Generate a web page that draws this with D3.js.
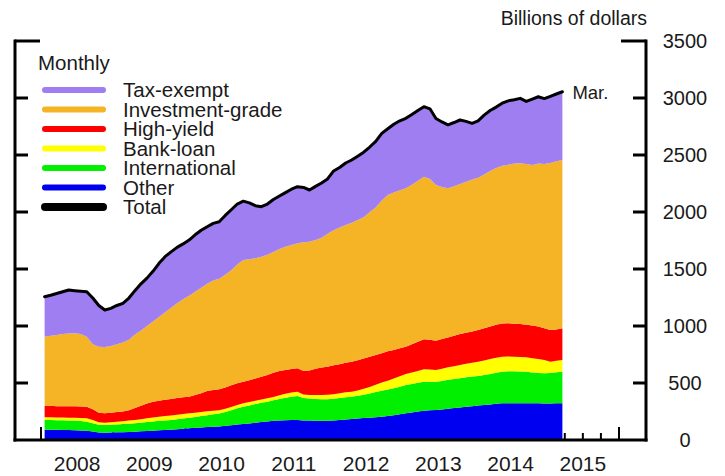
<!DOCTYPE html>
<html>
<head>
<meta charset="utf-8">
<script src="https://cdn.jsdelivr.net/npm/d3@7"></script>
<style>
html,body{margin:0;padding:0;background:#fff;}
svg{display:block;}
text{font-family:"Liberation Sans",Arial,sans-serif;fill:#1a1a1a;}
</style>
</head>
<body>
<svg id="chart" width="725" height="476"></svg>
<script>
// ---- data (billions of dollars, monthly Jan 2008 – Mar 2015) ----
const startYear = 2008;
const monthCount = 87;
const months = d3.range(monthCount).map(m => `${startYear + Math.floor(m / 12)}-${String(m % 12 + 1).padStart(2, "0")}`);

const other = [90,90,89,88,87,86,84,82,74,66,64,65,67,69,71,73,76,79,82,85,88,91,95,99,103,107,110,114,117,119,124,129,135,140,145,152,158,163,168,172,174,175,175,172,170,169,169,169,172,176,180,184,188,192,196,200,205,211,218,226,234,242,250,256,260,263,268,274,280,286,292,297,302,307,312,317,322,323,323,322,322,322,322,321,321,322,322];
const international = [85,86,85,85,85,84,82,79,74,68,68,69,70,71,72,73,76,79,81,83,84,85,87,89,92,95,100,104,108,113,121,131,143,152,158,163,168,173,180,188,196,205,211,196,194,191,189,188,190,192,194,196,200,206,212,220,227,231,237,242,248,250,252,256,252,249,250,254,255,256,258,259,259,263,268,273,277,279,279,278,277,271,265,264,267,272,277];
const bankLoan = [24,24,24,24,24,25,27,29,27,21,20,21,23,25,27,29,30,32,34,36,39,40,40,40,39,38,36,34,31,30,30,30,30,30,30,30,30,30,30,32,35,36,38,32,31,34,37,39,40,42,44,44,47,52,57,65,73,78,85,92,97,100,103,108,106,102,107,110,113,116,118,122,126,128,130,132,132,130,128,128,126,125,123,117,99,101,103];
const highYield = [99,100,97,99,101,100,101,102,95,85,82,83,85,84,90,105,118,130,139,141,141,144,146,147,146,155,164,178,183,183,185,190,190,190,192,195,199,204,212,213,210,206,205,205,215,231,240,247,253,255,260,263,265,265,265,260,255,258,250,245,240,248,257,263,262,257,260,262,267,272,272,274,278,282,285,288,292,293,290,290,285,287,285,278,278,275,278];
const investmentGrade = [608,615,627,634,637,641,636,614,570,578,581,587,595,606,620,645,660,680,704,735,768,800,831,860,885,905,925,940,961,970,990,1010,1042,1067,1060,1055,1053,1055,1060,1070,1080,1088,1096,1130,1130,1129,1140,1167,1185,1200,1207,1218,1230,1240,1270,1295,1340,1372,1380,1385,1389,1400,1413,1427,1410,1366,1335,1308,1310,1315,1326,1333,1335,1350,1365,1375,1382,1390,1405,1409,1410,1408,1430,1440,1465,1475,1476];
const taxExempt = [351,355,363,370,382,374,375,395,406,362,325,330,340,344,365,385,410,420,440,470,488,490,491,485,489,500,505,501,500,500,520,530,530,516,495,460,439,445,460,465,475,490,497,480,453,471,480,480,520,525,545,551,560,570,570,580,590,580,600,610,614,615,615,614,615,583,570,557,560,562,529,493,500,520,530,535,550,560,560,570,550,577,586,575,585,590,599];

const seriesKeys = ["other", "international", "bankLoan", "highYield", "investmentGrade", "taxExempt"];
const seriesValues = {other, international, bankLoan, highYield, investmentGrade, taxExempt};
const legendLabels = ["Tax-exempt", "Investment-grade", "High-yield", "Bank-loan", "International", "Other", "Total"];
const legendKeys = ["taxExempt", "investmentGrade", "highYield", "bankLoan", "international", "other", "total"];
const colors = {
  taxExempt: "#9f7ef1",
  investmentGrade: "#f5b326",
  highYield: "#fe0000",
  bankLoan: "#ffff00",
  international: "#00f000",
  other: "#0000f0",
  total: "#000000"
};
const yTicks = [0, 500, 1000, 1500, 2000, 2500, 3000, 3500];
const yearLabels = [2008, 2009, 2010, 2011, 2012, 2013, 2014, 2015];
const unitLabel = "Billions of dollars";
const freqLabel = "Monthly";
const endLabel = "Mar.";

// ---- build table ----
const table = months.map((mLabel, i) => {
  const row = {month: mLabel, t: startYear + (i + 0.6) / 12};
  seriesKeys.forEach(k => row[k] = seriesValues[k][i]);
  row.total = d3.sum(seriesKeys, k => row[k]);
  return row;
});

// ---- scales ----
const svg = d3.select("#chart");
const axL = 15, axR = 646, axT = 41, axB = 440;
const x = d3.scaleLinear().domain([2007.64, 2016.374]).range([axL, axR]);
const y = d3.scaleLinear().domain([0, 3500]).range([axB, axT]);

// ---- x ticks (behind data) ----
const gx = svg.append("g");
const quarterTicks = d3.range(2008, 2016.001, 0.25);
gx.selectAll("line.q").data(quarterTicks).join("line")
  .attr("x1", d => x(d)).attr("x2", d => x(d))
  .attr("y1", axB).attr("y2", d => Math.abs(d - Math.round(d)) < 1e-6 ? axB - 13 : axB - 7)
  .attr("stroke", "#000").attr("stroke-width", 2);

// ---- stacked areas ----
const stack = d3.stack().keys(seriesKeys);
const layers = stack(table);
const area = d3.area()
  .x(d => x(d.data.t))
  .y0(d => y(d[0]))
  .y1(d => y(d[1]));
svg.append("g").selectAll("path").data(layers).join("path")
  .attr("d", area)
  .attr("fill", d => colors[d.key]);

// ---- total line ----
const line = d3.line().x(d => x(d.t)).y(d => y(d.total));
svg.append("path").datum(table)
  .attr("d", line)
  .attr("fill", "none").attr("stroke", "#000")
  .attr("stroke-width", 3).attr("stroke-linejoin", "round").attr("stroke-linecap", "round");

// ---- axes frame ----
const ga = svg.append("g").attr("stroke", "#000").attr("stroke-width", 3);
ga.append("line").attr("x1", axL).attr("x2", axL).attr("y1", axT - 1.5).attr("y2", axB + 1.5);
ga.append("line").attr("x1", axR).attr("x2", axR).attr("y1", axT - 1.5).attr("y2", axB + 1.5);
ga.append("line").attr("x1", axL - 1.5).attr("x2", axR + 1.5).attr("y1", axB).attr("y2", axB);
const yt = yTicks.filter(v => v > 0);
ga.selectAll("line.l").data(yt).join("line")
  .attr("x1", axL).attr("x2", v => axL + (v === 3500 ? 25 : 13))
  .attr("y1", v => y(v)).attr("y2", v => y(v));
ga.selectAll("line.r").data(yt).join("line")
  .attr("x1", axR).attr("x2", v => axR - (v === 3500 ? 25 : 13))
  .attr("y1", v => y(v)).attr("y2", v => y(v));

// ---- axis labels ----
svg.append("g").selectAll("text").data(yTicks).join("text")
  .attr("x", 685).attr("y", v => y(v) + 7)
  .attr("text-anchor", "middle").attr("font-size", 20)
  .text(v => v);
svg.append("g").selectAll("text").data(yearLabels).join("text")
  .attr("x", d => x(d + 0.5)).attr("y", 471)
  .attr("text-anchor", "middle").attr("font-size", 21)
  .text(d => d);
svg.append("text").attr("x", 647).attr("y", 25)
  .attr("text-anchor", "end").attr("font-size", 19.5).text(unitLabel);

// ---- end label ----
const last = table[table.length - 1];
svg.append("text").attr("x", x(last.t) + 10).attr("y", y(last.total) + 7)
  .attr("font-size", 18.5).text(endLabel);

// ---- legend ----
svg.append("text").attr("x", 38).attr("y", 70).attr("font-size", 20.5).text(freqLabel);
const lg = svg.append("g");
legendKeys.forEach((k, i) => {
  const cy = 90 + i * 19.5;
  lg.append("line").attr("x1", 45).attr("x2", 103).attr("y1", cy).attr("y2", cy)
    .attr("stroke", colors[k]).attr("stroke-width", k === "total" ? 8 : 6)
    .attr("stroke-linecap", "round");
  lg.append("text").attr("x", 123).attr("y", cy + 7).attr("font-size", 20.5).text(legendLabels[i]);
});
</script>
</body>
</html>
